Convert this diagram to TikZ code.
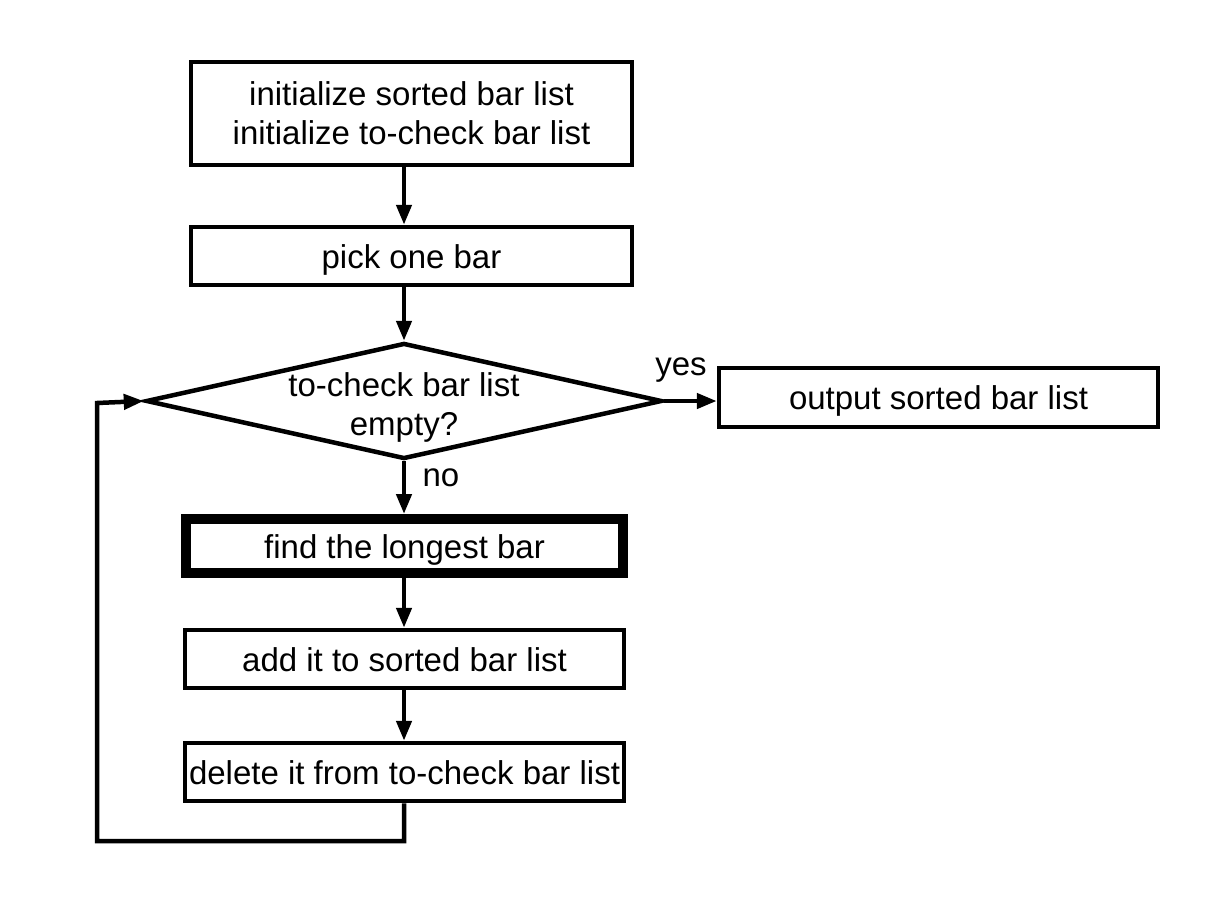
\documentclass[tikz,border=0pt]{standalone}
\usepackage{fontspec}
\setmainfont{Liberation Sans}
\usetikzlibrary{shapes.geometric,arrows.meta}
\begin{document}
\begin{tikzpicture}[x=1pt,y=-1pt,
  font=\fontsize{33}{39}\selectfont,
  line width=4.5pt,
  box/.style={draw, rectangle, inner sep=0pt, align=center},
  onebox/.style={box, text height=31pt, text depth=7pt},
  decision/.style={draw, diamond, inner sep=0pt, minimum width=516pt, minimum height=116pt},
  arr/.style={-{Triangle[length=20pt,width=15pt]}}]
\useasboundingbox (0,0) rectangle (1226,914);
\node[box, minimum width=441pt, minimum height=103pt] (init) at (411.5,113.5) {initialize sorted bar list\\initialize to-check bar list};
\node[onebox, minimum width=441pt, minimum height=58pt] (pick) at (411.5,256) {pick one bar};
\node[decision, label={[align=center,inner sep=0pt,yshift=-6pt]center:to-check bar list\\empty?}] (dec) at (404,401) {};
\node[onebox, minimum width=439pt, minimum height=59pt] (out) at (938.5,397.5) {output sorted bar list};
\node[onebox, line width=10pt, minimum width=437pt, minimum height=54pt] (find) at (404.5,546) {find the longest bar};
\node[onebox, minimum width=439pt, minimum height=58pt] (add) at (404.5,659) {add it to sorted bar list};
\node[onebox, minimum width=439pt, minimum height=58pt] (del) at (404.5,772) {delete it from to-check bar list};
\node (yes) at (681,370) {yes};
\node (no) at (441,478) {no};
\coordinate (c1) at (404,841);
\coordinate (c2) at (97,841);
\coordinate (c3) at (97,403);
\draw[arr] (init.south -| dec.north) -- (pick.north -| dec.north);
\draw[arr] (pick.south -| dec.north) -- (dec.north);
\draw[arr] (dec.south) -- (find.north -| dec.south);
\draw[arr] (find.south -| dec.south) -- (add.north -| dec.south);
\draw[arr] (add.south -| dec.south) -- (del.north -| dec.south);
\draw[arr] (dec.east) -- (out.west |- dec.east);
\draw[arr] (del.south -| dec.south) -- (c1) -- (c2) -- (c3) -- (dec.west);
\end{tikzpicture}
\end{document}
